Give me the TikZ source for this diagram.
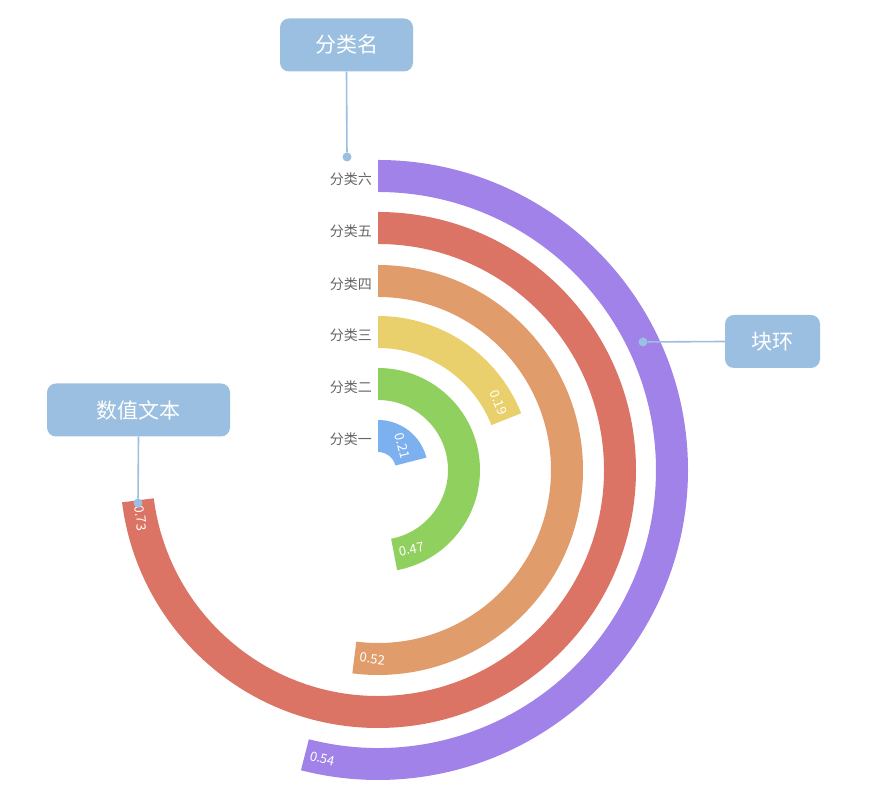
\documentclass[tikz,border=0pt]{standalone}
\usepackage{fontspec}
\usetikzlibrary{calc}
\setmainfont{Noto Sans CJK SC}
\definecolor{cA}{HTML}{7CB0EF}
\definecolor{cB}{HTML}{8FD05E}
\definecolor{cC}{HTML}{EAD06C}
\definecolor{cD}{HTML}{E09D6B}
\definecolor{cE}{HTML}{DC7465}
\definecolor{cF}{HTML}{A082E8}
\definecolor{callout}{HTML}{9BBFE0}
\definecolor{lbl}{HTML}{666666}
\begin{document}
\begin{tikzpicture}[x=1pt,y=1pt,
  catlbl/.style={anchor=east,text=lbl,font=\fontsize{14}{14}\selectfont,inner sep=0pt},
  vallbl/.style={text=white,font=\fontsize{13}{13}\selectfont,inner sep=0pt},
  callbox/.style={fill=callout,rounded corners=9pt,text=white,font=\fontsize{21}{21}\selectfont,minimum height=53pt,inner sep=0pt},
  callline/.style={draw=callout,line width=1.6pt},
  calldot/.style={circle,fill=callout,inner sep=0pt,minimum size=9pt}]
\useasboundingbox (0,0) rectangle (876,810);
\coordinate (c) at (378,340);
\foreach \ri/\ro/\v/\col/\name/\txt in {18/50/0.21/cA/分类一/0.21, 70/102/0.47/cB/分类二/0.47, 122/154/0.19/cC/分类三/0.19, 173/205/0.52/cD/分类四/0.52, 226/258/0.73/cE/分类五/0.73, 278/310/0.54/cF/分类六/0.54}{
  \pgfmathsetmacro{\th}{360*\v}
  \pgfmathsetmacro{\ea}{90-\th}
  \pgfmathsetmacro{\rmid}{(\ri+\ro)/2}
  \fill[\col] ($(c)+(90:\ro pt)$) arc[start angle=90,end angle=\ea,radius=\ro pt] -- ($(c)+(\ea:\ri pt)$) arc[start angle=\ea,end angle=90,radius=\ri pt] -- cycle;
  \pgfmathsetmacro{\del}{(18/\rmid)*180/3.14159}
  \pgfmathsetmacro{\rot}{-\th<-90 ? 180-\th : -\th}
  \node[vallbl,rotate=\rot] at ($(c)+(\ea+\del:\rmid pt)$) {\txt};
  \node[catlbl] at ($(c)+(-6,\rmid-3)$) {\name};
}
\node[callbox,minimum width=133pt] (b1) at (346.5,765) {分类名};
\node[calldot] (d1) at (347,653) {};
\draw[callline] (b1.south) -- (d1);
\node[callbox,minimum width=95pt] (b2) at (772.5,468.5) {块环};
\node[calldot] (d2) at (643,468) {};
\draw[callline] (b2.west) -- (d2);
\node[callbox,minimum width=183pt] (b3) at (138.5,400) {数值文本};
\node[calldot] (d3) at (138,307) {};
\draw[callline] (b3.south) -- (d3);
\end{tikzpicture}
\end{document}
